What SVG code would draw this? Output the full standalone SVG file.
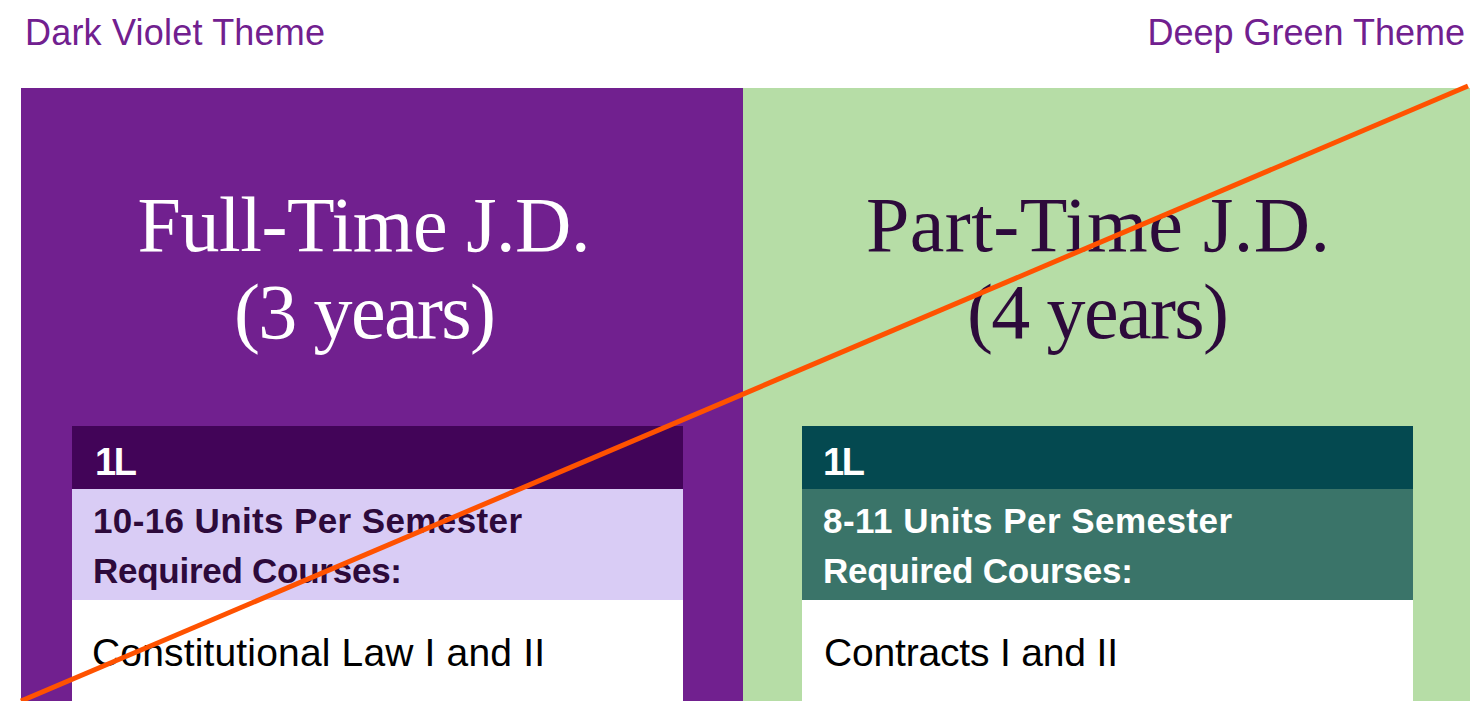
<svg xmlns="http://www.w3.org/2000/svg" width="1470" height="701" viewBox="0 0 1470 701">
<style>
.theme{font-family:"Liberation Sans",Arial,sans-serif;font-size:36px;fill:#71208F}
.title{font-family:"Liberation Serif","Times New Roman",serif;font-size:78px;text-anchor:middle}
.hdr{font-family:"Liberation Sans",Arial,sans-serif;font-weight:bold;font-size:38px;fill:#FFFFFF}
.sub{font-family:"Liberation Sans",Arial,sans-serif;font-weight:bold;font-size:35px}
.course{font-family:"Liberation Sans",Arial,sans-serif;font-size:39px;fill:#000000}
</style>
<rect x="0" y="0" width="1470" height="701" fill="#FFFFFF"/>
<g id="labels">
<text class="theme" x="25" y="45" textLength="300">Dark Violet Theme</text>
<text class="theme" x="1465" y="45" text-anchor="end">Deep Green Theme</text>
</g>
<g id="fulltime">
<rect x="21" y="88" width="722" height="613" fill="#71208F"/>
<text class="title" x="364" y="251" fill="#FFFFFF" textLength="453">Full-Time J.D.</text>
<text class="title" x="365" y="338" fill="#FFFFFF" textLength="262">(3 years)</text>
<g id="fulltime-1L">
<rect x="72" y="426" width="611" height="63" fill="#420458"/>
<rect x="72" y="489" width="611" height="111" fill="#D9CCF5"/>
<rect x="72" y="600" width="611" height="101" fill="#FFFFFF"/>
<text class="hdr" x="95" y="475" textLength="42">1L</text>
<text class="sub" x="93" y="533" fill="#2D0A3B" textLength="429">10-16 Units Per Semester</text>
<text class="sub" x="93" y="583" fill="#2D0A3B" textLength="309">Required Courses:</text>
<text class="course" x="92" y="666" textLength="453">Constitutional Law I and II</text>
</g>
</g>
<g id="parttime">
<rect x="743" y="88" width="727" height="613" fill="#B6DDA6"/>
<text class="title" x="1098" y="251" fill="#2D0A3B" textLength="464">Part-Time J.D.</text>
<text class="title" x="1098" y="338" fill="#2D0A3B" textLength="262">(4 years)</text>
<g id="parttime-1L">
<rect x="802" y="426" width="611" height="63" fill="#044950"/>
<rect x="802" y="489" width="611" height="111" fill="#3A7469"/>
<rect x="802" y="600" width="611" height="101" fill="#FFFFFF"/>
<text class="hdr" x="823" y="475" textLength="42">1L</text>
<text class="sub" x="823" y="533" fill="#FFFFFF" textLength="409">8-11 Units Per Semester</text>
<text class="sub" x="823" y="583" fill="#FFFFFF" textLength="310">Required Courses:</text>
<text class="course" x="824" y="666" textLength="294">Contracts I and II</text>
</g>
</g>
<g id="connectors">
<line x1="21" y1="701" x2="1468" y2="86" stroke="#FF5200" stroke-width="5"/>
</g>
</svg>
